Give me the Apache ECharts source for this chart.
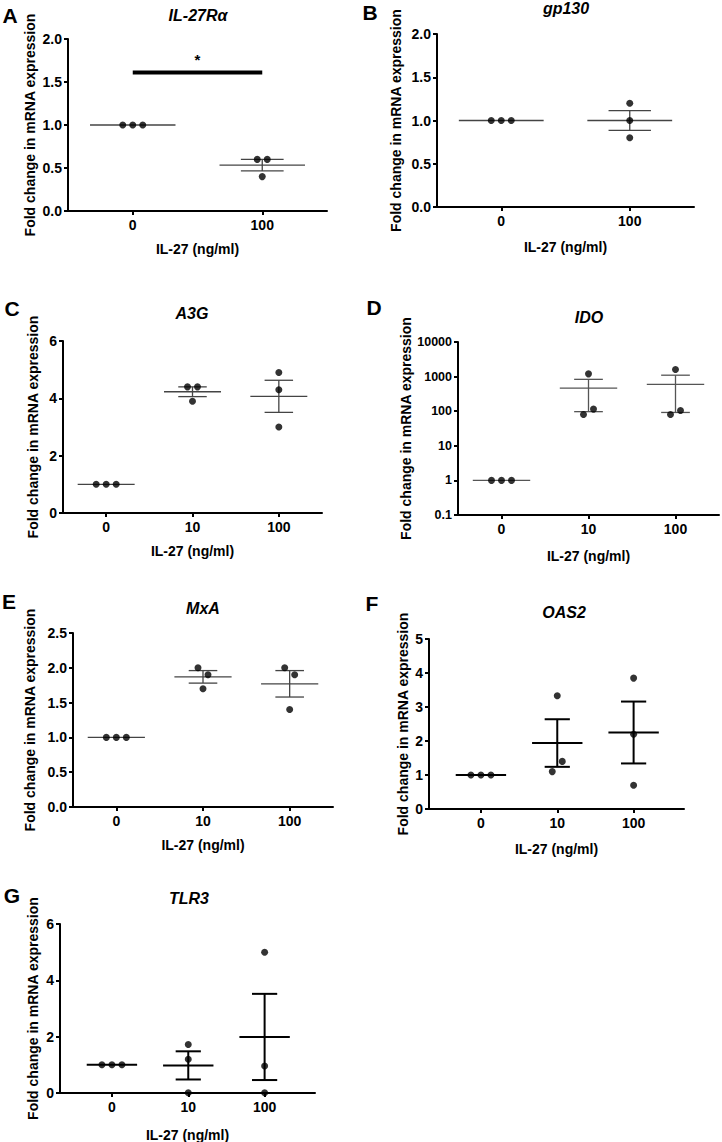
<!DOCTYPE html>
<html>
<head>
<meta charset="utf-8">
<script src="https://cdn.jsdelivr.net/npm/echarts@6/dist/echarts.min.js"></script>
<style>
html, body { margin: 0; padding: 0; background: #fff; }
#fig { width: 722px; height: 1142px; }
</style>
</head>
<body>
<div id="fig"></div>
<script>
// doses on the x axis
var doses2 = ['0', '100'];
var doses3 = ['0', '10', '100'];
var xName = 'IL-27 (ng/ml)';
var yName = 'Fold change in mRNA expression';

// A  IL-27Ra
var raPoints = [[1.0, 1.0, 1.0], [0.6, 0.6, 0.4]];
var raMean = [1.0, 0.533];
var raSem = [0, 0.067];
var raTicks = [0, 0.5, 1.0, 1.5, 2.0];
var raSigBar = [0, 1, 1.61];   // from group, to group, height
var raSigLabel = '*';

// B  gp130
var gpPoints = [[1.0, 1.0, 1.0], [1.2, 1.0, 0.8]];
var gpMean = [1.0, 1.0];
var gpSem = [0, 0.115];
var gpTicks = [0, 0.5, 1.0, 1.5, 2.0];

// C  A3G
var a3gPoints = [[1, 1, 1], [4.4, 4.4, 3.9], [4.9, 4.3, 3.0]];
var a3gMean = [1, 4.23, 4.07];
var a3gSem = [0, 0.17, 0.56];
var a3gTicks = [0, 2, 4, 6];

// D  IDO (log scale)
var idoPoints = [[1, 1, 1], [1200, 80, 115], [1600, 80, 105]];
var idoMean = [1, 465, 595];
var idoSem = [0, 368, 503];
var idoTicks = [0.1, 1, 10, 100, 1000, 10000];

// E  MxA
var mxaPoints = [[1, 1, 1], [2.0, 1.9, 1.7], [2.0, 1.9, 1.4]];
var mxaMean = [1, 1.87, 1.77];
var mxaSem = [0, 0.09, 0.19];
var mxaTicks = [0, 0.5, 1.0, 1.5, 2.0, 2.5];

// F  OAS2
var oasPoints = [[1, 1, 1], [3.33, 1.1, 1.4], [3.85, 2.2, 0.7]];
var oasMean = [1, 1.94, 2.25];
var oasSem = [0, 0.70, 0.91];
var oasTicks = [0, 1, 2, 3, 4, 5];

// G  TLR3
var tlrPoints = [[1, 1, 1], [1.72, 1.2, 0.01], [5.0, 0.96, 0.01]];
var tlrMean = [1, 0.98, 1.99];
var tlrSem = [0, 0.50, 1.53];
var tlrTicks = [0, 2, 4, 6];

var FONT = '"Liberation Sans", Arial, sans-serif';
var MEAN_HALF = 0.33, CAP_HALF = 0.165;   // in group units
var DOT_SPREAD = 10, DOT_OVERLAP = 12;    // px

var panels = [
    {letter: 'A', title: 'IL-27R\u03b1', cats: doses2, pts: raPoints, mean: raMean, sem: raSem, ticks: raTicks, dec: 1,
     box: [68, 39, 259, 172], xr: [-0.5, 1.5], titleXY: [198, 15], letterXY: [10, 15], yGap: 31, xGap: 31,
     lineColor: '#444', lineWidth: 1.3},
    {letter: 'B', title: 'gp130', cats: doses2, pts: gpPoints, mean: gpMean, sem: gpSem, ticks: gpTicks, dec: 1,
     box: [437, 34, 257, 173], xr: [-0.5, 1.5], titleXY: [566, 8], letterXY: [370, 12], yGap: 34, xGap: 33,
     lineColor: '#444', lineWidth: 1.3},
    {letter: 'C', title: 'A3G', cats: doses3, pts: a3gPoints, mean: a3gMean, sem: a3gSem, ticks: a3gTicks, dec: 0,
     box: [63, 341, 259, 172], xr: [-0.5, 2.5], titleXY: [192, 313], letterXY: [12, 308], yGap: 23, xGap: 31,
     lineColor: '#444', lineWidth: 1.3},
    {letter: 'D', title: 'IDO', cats: doses3, pts: idoPoints, mean: idoMean, sem: idoSem, ticks: idoTicks, log: true,
     box: [458, 342, 261, 173], xr: [-0.5, 2.5], titleXY: [589, 317], letterXY: [374, 307], yGap: 45, xGap: 34,
     lineColor: '#555', lineWidth: 1.3, yFont: 12.5},
    {letter: 'E', title: 'MxA', cats: doses3, pts: mxaPoints, mean: mxaMean, sem: mxaSem, ticks: mxaTicks, dec: 1,
     box: [73, 633, 260, 174], xr: [-0.5, 2.5], titleXY: [203, 608], letterXY: [9, 601], yGap: 36, xGap: 31,
     lineColor: '#444', lineWidth: 1.3},
    {letter: 'F', title: 'OAS2', cats: doses3, pts: oasPoints, mean: oasMean, sem: oasSem, ticks: oasTicks, dec: 0,
     box: [429, 639, 255, 170], xr: [-0.68, 2.66], titleXY: [564, 612], letterXY: [372, 603], yGap: 19, xGap: 33,
     lineColor: '#000', lineWidth: 2},
    {letter: 'G', title: 'TLR3', cats: doses3, pts: tlrPoints, mean: tlrMean, sem: tlrSem, ticks: tlrTicks, dec: 0,
     box: [60, 924, 255, 169], xr: [-0.68, 2.66], titleXY: [189, 898], letterXY: [12, 895], yGap: 20, xGap: 35,
     lineColor: '#000', lineWidth: 2}
];

var chart = echarts.init(document.getElementById('fig'), null, {renderer: 'svg'});

var grids = [], xAxes = [], yAxes = [], series = [], graphics = [];
var nameStyle = {color: '#000', fontWeight: 'bold', fontSize: 14, fontFamily: FONT};

panels.forEach(function (p, i) {
    grids.push({left: p.box[0], top: p.box[1], width: p.box[2], height: p.box[3],
        containLabel: false, outerBoundsMode: 'none'});
    var idx = p.cats.map(function (c, k) { return k; });
    xAxes.push({
        gridIndex: i, type: 'value', min: p.xr[0], max: p.xr[1],
        axisLine: {show: true, onZero: false, lineStyle: {color: '#000', width: 2}},
        axisTick: {show: true, customValues: idx, length: 4, lineStyle: {color: '#000', width: 2}},
        axisLabel: {customValues: idx, margin: 7, color: '#000', fontWeight: 'bold', fontSize: 14, fontFamily: FONT,
            formatter: function (v) { return p.cats[Math.round(v)]; }},
        splitLine: {show: false},
        name: xName, nameLocation: 'middle', nameGap: p.xGap, nameTextStyle: nameStyle
    });
    var y = {
        gridIndex: i, min: p.ticks[0], max: p.ticks[p.ticks.length - 1],
        axisLine: {show: true, onZero: false, lineStyle: {color: '#000', width: 2}},
        axisTick: {show: true, length: 4, lineStyle: {color: '#000', width: 2}},
        axisLabel: {margin: 6, color: '#000', fontWeight: 'bold', fontSize: p.yFont || 14, fontFamily: FONT},
        splitLine: {show: false},
        name: yName, nameLocation: 'middle', nameRotate: 90, nameGap: p.yGap, nameTextStyle: nameStyle
    };
    if (p.log) {
        y.type = 'log';
        y.logBase = 10;
        y.splitNumber = p.ticks.length - 1;
        y.axisLabel.formatter = function (v) { return v >= 1 ? String(Math.round(v)) : String(+v.toPrecision(1)); };
    } else {
        y.type = 'value';
        y.interval = p.ticks[1] - p.ticks[0];
        y.axisLabel.formatter = function (v) { return v.toFixed(p.dec); };
    }
    yAxes.push(y);

    // mean line with SEM whiskers
    series.push({
        type: 'custom', xAxisIndex: i, yAxisIndex: i, silent: true, z: 2,
        data: p.mean.map(function (m, g) { return [g, m, p.sem[g]]; }),
        encode: {x: 0, y: 1},
        renderItem: function (params, api) {
            var x = api.value(0), m = api.value(1), s = api.value(2);
            function seg(x1, y1, x2, y2) {
                var a = api.coord([x1, y1]), b = api.coord([x2, y2]);
                return {type: 'line', shape: {x1: a[0], y1: a[1], x2: b[0], y2: b[1]},
                    style: {stroke: p.lineColor, lineWidth: p.lineWidth}};
            }
            var kids = [seg(x - MEAN_HALF, m, x + MEAN_HALF, m)];
            if (s > 0) {
                kids.push(seg(x, m - s, x, m + s));
                kids.push(seg(x - CAP_HALF, m + s, x + CAP_HALF, m + s));
                kids.push(seg(x - CAP_HALF, m - s, x + CAP_HALF, m - s));
            }
            return {type: 'group', children: kids};
        }
    });

    // individual points
    var dots = [];
    p.pts.forEach(function (vals, g) {
        vals.forEach(function (v) { dots.push([g, v]); });
    });
    series.push({
        id: 'dots' + i, type: 'scatter', xAxisIndex: i, yAxisIndex: i, silent: true, z: 3,
        symbol: 'circle', symbolSize: 7, itemStyle: {color: '#000'},
        data: dots
    });

    graphics.push({type: 'text', x: p.titleXY[0], y: p.titleXY[1], silent: true,
        style: {text: p.title, align: 'center', verticalAlign: 'middle', fill: '#000',
            font: 'italic bold 16px ' + FONT}});
    graphics.push({type: 'text', x: p.letterXY[0], y: p.letterXY[1], silent: true,
        style: {text: p.letter, align: 'center', verticalAlign: 'middle', fill: '#000',
            font: 'bold 21px ' + FONT}});
});

// significance bar in panel A
series.push({
    type: 'custom', xAxisIndex: 0, yAxisIndex: 0, silent: true, z: 2,
    data: [raSigBar], encode: {x: [0, 1], y: 2},
    renderItem: function (params, api) {
        var a = api.coord([api.value(0), api.value(2)]);
        var b = api.coord([api.value(1), api.value(2)]);
        return {type: 'group', children: [
            {type: 'line', shape: {x1: a[0], y1: a[1], x2: b[0], y2: b[1]}, style: {stroke: '#000', lineWidth: 4}},
            {type: 'text', style: {text: raSigLabel, x: (a[0] + b[0]) / 2, y: a[1] - 13, align: 'center',
                verticalAlign: 'middle', fill: '#000', font: 'bold 15px ' + FONT}}
        ]};
    }
});

chart.setOption({
    animation: false,
    backgroundColor: '#fff',
    grid: grids,
    xAxis: xAxes,
    yAxis: yAxes,
    series: series,
    graphic: graphics
});

// spread points that would overlap, like a scatter dot plot
panels.forEach(function (p, i) {
    var dots = [];
    p.pts.forEach(function (vals, g) {
        var py = vals.map(function (v) { return chart.convertToPixel({gridIndex: i}, [g, v])[1]; });
        var order = vals.map(function (v, k) { return k; }).sort(function (a, b) { return py[a] - py[b]; });
        var clusters = [], cur = [];
        order.forEach(function (k, n) {
            if (n > 0 && py[k] - py[order[n - 1]] > DOT_OVERLAP) {
                clusters.push(cur);
                cur = [];
            }
            cur.push(k);
        });
        clusters.push(cur);
        var off = [];
        clusters.forEach(function (c) {
            c.sort(function (a, b) { return a - b; });
            c.forEach(function (k, j) { off[k] = (j - (c.length - 1) / 2) * DOT_SPREAD; });
        });
        vals.forEach(function (v, k) {
            dots.push({value: [g, v], symbolOffset: [off[k], 0]});
        });
    });
    chart.setOption({series: [{id: 'dots' + i, data: dots}]});
});
</script>
</body>
</html>
